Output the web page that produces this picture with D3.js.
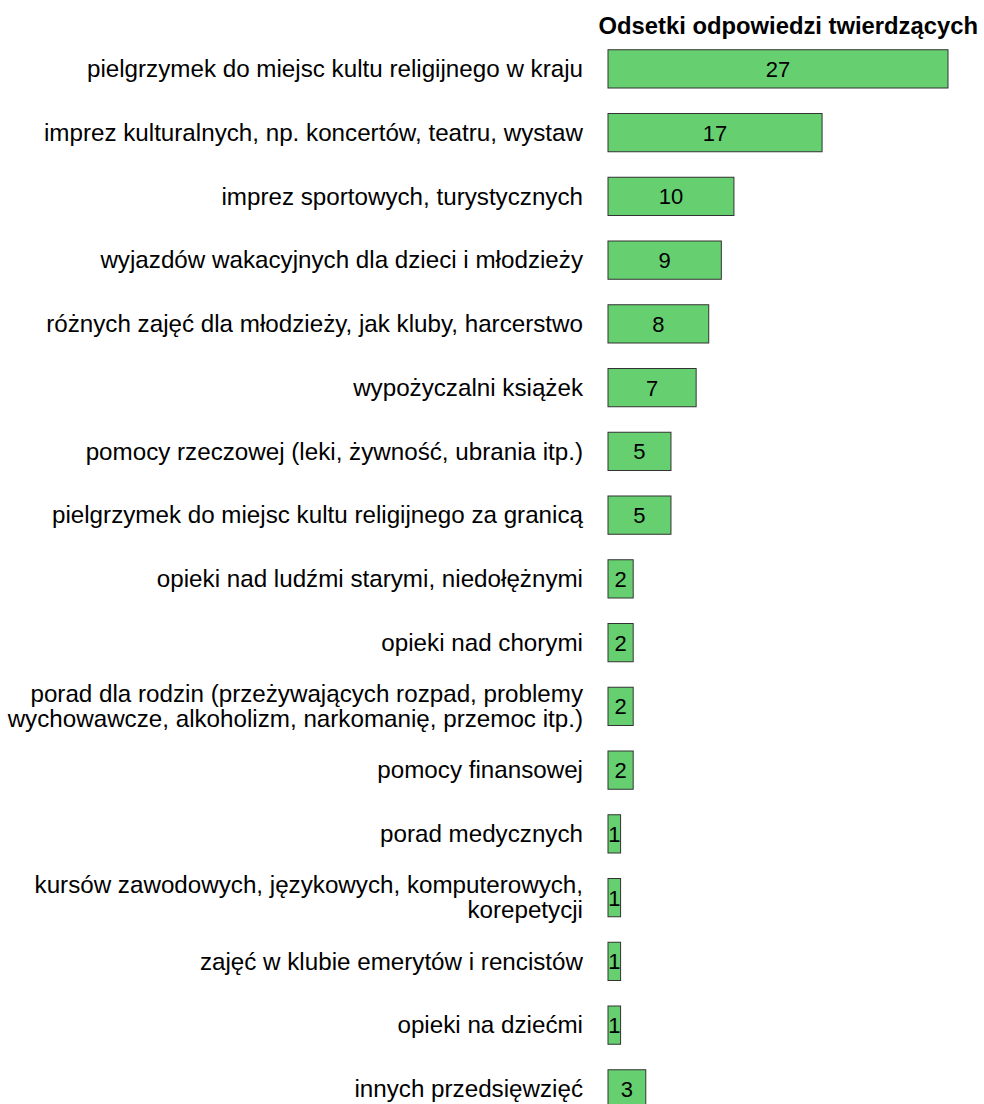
<!DOCTYPE html>
<html>
<head>
<meta charset="utf-8">
<script src="https://cdn.jsdelivr.net/npm/d3@7"></script>
<style>
  body { margin: 0; background: #fff; }
  text { font-family: "Liberation Sans", Arial, sans-serif; fill: #000; }
</style>
</head>
<body>
<div class="canvas"></div>
<script>
// categories (each label split into lines) and values
const categories = [
    ['pielgrzymek do miejsc kultu religijnego w kraju'],
    ['imprez kulturalnych, np. koncertów, teatru, wystaw'],
    ['imprez sportowych, turystycznych'],
    ['wyjazdów wakacyjnych dla dzieci i młodzieży'],
    ['różnych zajęć dla młodzieży, jak kluby, harcerstwo'],
    ['wypożyczalni książek'],
    ['pomocy rzeczowej (leki, żywność, ubrania itp.)'],
    ['pielgrzymek do miejsc kultu religijnego za granicą'],
    ['opieki nad ludźmi starymi, niedołężnymi'],
    ['opieki nad chorymi'],
    ['porad dla rodzin (przeżywających rozpad, problemy', 'wychowawcze, alkoholizm, narkomanię, przemoc itp.)'],
    ['pomocy finansowej'],
    ['porad medycznych'],
    ['kursów zawodowych, językowych, komputerowych,', 'korepetycji'],
    ['zajęć w klubie emerytów i rencistów'],
    ['opieki na dziećmi'],
    ['innych przedsięwzięć']
];
const values = [27, 17, 10, 9, 8, 7, 5, 5, 2, 2, 2, 2, 1, 1, 1, 1, 3];
const title = 'Odsetki odpowiedzi twierdzących';

const width = 984, height = 1104;

const svg = d3.select('.canvas')
    .append('svg')
        .attr('width', width)
        .attr('height', height);

const data = values.map((v, i) => ({ id: i, lines: categories[i], value: v }));

// scales
const x = d3.scaleLinear()
    .domain([0, 27])
    .range([608, 948]);

const y = d3.scaleBand()
    .domain(data.map(d => d.id))
    .range([37, 37 + 17 * 63.75])
    .paddingInner(0.4)
    .paddingOuter(0.2);

// title
svg.append('text')
    .attr('x', 978)
    .attr('y', 34)
    .attr('text-anchor', 'end')
    .attr('font-size', 23.8)
    .attr('font-weight', 'bold')
    .text(title);

// bars
svg.selectAll('rect').data(data)
    .enter()
    .append('rect')
        .attr('x', x(0))
        .attr('y', d => y(d.id))
        .attr('width', d => x(d.value) - x(0))
        .attr('height', y.bandwidth())
        .attr('fill', '#66d070')
        .attr('stroke', '#333')
        .attr('stroke-width', 1);

// values inside bars
svg.selectAll('.val').data(data)
    .enter()
    .append('text')
        .attr('class', 'val')
        .attr('x', d => (x(0) + x(d.value)) / 2)
        .attr('y', d => y(d.id) + y.bandwidth() / 2)
        .attr('dy', '0.36em')
        .attr('text-anchor', 'middle')
        .attr('font-size', 22)
        .text(d => d.value);

// category labels, right aligned
const labels = svg.selectAll('.lab').data(data)
    .enter()
    .append('text')
        .attr('class', 'lab')
        .attr('text-anchor', 'end')
        .attr('font-size', 24.2);

const lineH = 25;
labels.selectAll('tspan')
    .data(d => d.lines.map((l, k) => ({ l, k, n: d.lines.length, id: d.id })))
    .enter()
    .append('tspan')
        .attr('x', 583)
        .attr('y', t => y(t.id) + y.bandwidth() / 2 + (t.k - (t.n - 1) / 2) * lineH)
        .attr('dy', '0.34em')
        .text(t => t.l);
</script>
</body>
</html>
